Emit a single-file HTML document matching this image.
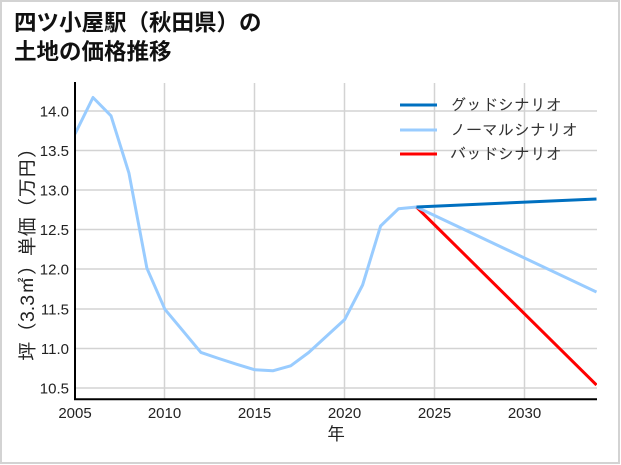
<!DOCTYPE html>
<html><head><meta charset="utf-8"><style>
html,body{margin:0;padding:0;background:#fff;}
svg{display:block;}
</style></head><body>
<svg width="621" height="465" viewBox="0 0 621 465" xmlns="http://www.w3.org/2000/svg">
<rect x="0" y="0" width="621" height="465" fill="#fff"/>
<rect x="1" y="1" width="618" height="462" fill="none" stroke="#d3d3d3" stroke-width="2"/>
<g font-family="'Noto Sans CJK JP', 'IPAGothic', sans-serif" font-weight="bold" font-size="22.5" fill="#111">
<text x="14" y="30.5">四ツ小屋駅（秋田県）の</text>
<text x="14" y="59.5">土地の価格推移</text>
</g>
<defs><clipPath id="pc"><rect x="75" y="83" width="522" height="316"/></clipPath></defs>
<g stroke="#d3d3d3" stroke-width="1.5">
<line x1="75" y1="111" x2="597" y2="111"/>
<line x1="75" y1="150.5" x2="597" y2="150.5"/>
<line x1="75" y1="190" x2="597" y2="190"/>
<line x1="75" y1="229.5" x2="597" y2="229.5"/>
<line x1="75" y1="269" x2="597" y2="269"/>
<line x1="75" y1="309" x2="597" y2="309"/>
<line x1="75" y1="348.5" x2="597" y2="348.5"/>
<line x1="75" y1="388" x2="597" y2="388"/>
<line x1="164.5" y1="83" x2="164.5" y2="399"/>
<line x1="254.5" y1="83" x2="254.5" y2="399"/>
<line x1="344.5" y1="83" x2="344.5" y2="399"/>
<line x1="434.5" y1="83" x2="434.5" y2="399"/>
<line x1="524.5" y1="83" x2="524.5" y2="399"/>
</g>
<g clip-path="url(#pc)" fill="none" stroke-width="3" stroke-linejoin="round">
<polyline stroke="#99ccff" points="75,134 93,97.5 111,115.8 128.9,172.9 146.9,268.2 164.9,309.3 182.9,330.8 200.9,352.4 218.8,358.5 236.8,364.3 254.8,369.8 272.8,370.8 290.7,365.8 308.7,352.5 326.7,336 344.7,319.5 362.6,285 380.6,226 398.6,208.7 416.5,207"/>
<polyline stroke="#ff0000" points="416.5,207 596.5,385"/>
<polyline stroke="#99ccff" points="416.5,207 596.5,292"/>
<polyline stroke="#0070c0" points="416.5,207 596.5,199"/>
</g>
<line x1="75" y1="82" x2="75" y2="400" stroke="#000" stroke-width="2"/>
<line x1="74" y1="399.3" x2="597" y2="399.3" stroke="#000" stroke-width="2"/>
<g font-family="'Liberation Sans', sans-serif" font-size="15" fill="#222" text-anchor="end">
<text x="69" y="116.3">14.0</text>
<text x="69" y="155.8">13.5</text>
<text x="69" y="195.3">13.0</text>
<text x="69" y="234.8">12.5</text>
<text x="69" y="274.3">12.0</text>
<text x="69" y="314.3">11.5</text>
<text x="69" y="353.8">11.0</text>
<text x="69" y="393.3">10.5</text>
</g>
<g font-family="'Liberation Sans', sans-serif" font-size="15" fill="#222" text-anchor="middle">
<text x="75" y="418">2005</text>
<text x="164.5" y="418">2010</text>
<text x="254.5" y="418">2015</text>
<text x="344.5" y="418">2020</text>
<text x="434.5" y="418">2025</text>
<text x="524.5" y="418">2030</text>
</g>
<text x="336" y="440" font-family="'IPAGothic', 'Noto Sans CJK JP', sans-serif" font-size="18" fill="#222" text-anchor="middle">年</text>
<text transform="translate(34,250) rotate(-90)" x="0" y="0" font-family="'Liberation Sans', 'IPAGothic', 'Noto Sans CJK JP', sans-serif" font-size="19.5" fill="#222" text-anchor="middle">坪（3.3㎡）単価（万円）</text>
<g stroke-width="3">
<line x1="400" y1="105" x2="437" y2="105" stroke="#0070c0"/>
<line x1="400" y1="130" x2="437" y2="130" stroke="#99ccff"/>
<line x1="400" y1="154" x2="437" y2="154" stroke="#ff0000"/>
</g>
<g font-family="'IPAGothic', 'Noto Sans CJK JP', sans-serif" font-size="16" fill="#333">
<text x="450" y="110.5">グッドシナリオ</text>
<text x="450" y="135.5">ノーマルシナリオ</text>
<text x="450" y="159.5">バッドシナリオ</text>
</g>
</svg>
</body></html>
